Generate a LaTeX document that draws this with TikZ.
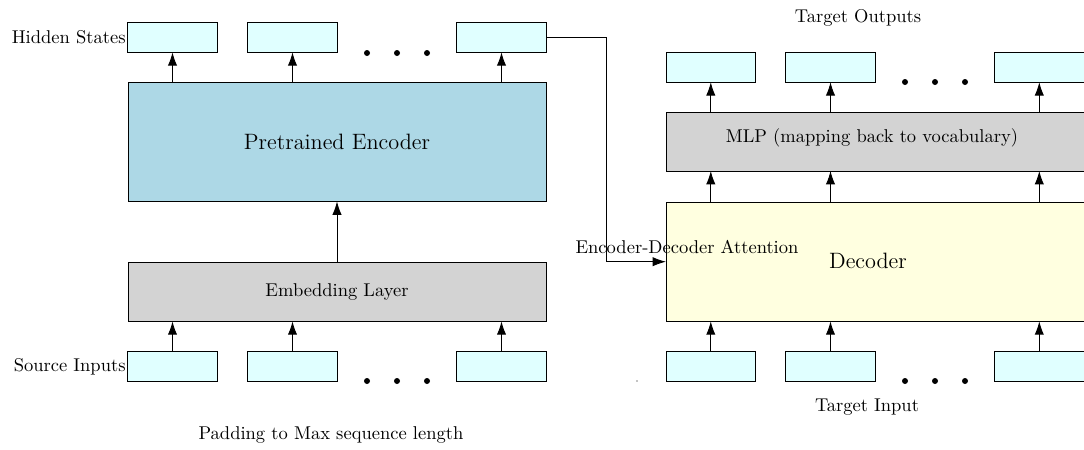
\documentclass[tikz,border=0pt]{standalone}
\usetikzlibrary{arrows.meta}
\definecolor{tokcyan}{RGB}{224,255,255}
\definecolor{encblue}{RGB}{173,216,230}
\definecolor{laygray}{RGB}{211,211,211}
\definecolor{decyellow}{RGB}{255,255,224}
\begin{document}
\begin{tikzpicture}[x=0.54pt,y=-0.54pt,
  tok/.style={draw, fill=tokcyan, line width=0.5pt, inner sep=0pt, outer sep=0pt, minimum width=48.3pt, minimum height=16.2pt},
  bigbox/.style={draw, line width=0.5pt, inner sep=0pt, outer sep=0pt, minimum width=225.7pt},
  arr/.style={-{Latex[length=7.2pt,width=5pt]}, line width=0.5pt},
  lbl/.style={inner sep=1pt, font=\normalsize},
  dotc/.style={fill=black}]
\useasboundingbox (0,0) rectangle (1084,450);
% left column
\node[tok] (h1) at (172.5,37.3) {};
\node[tok] (h2) at (292.5,37.3) {};
\node[tok] (h3) at (501.5,37.3) {};
\node[lbl, anchor=east] (hl) at (h1.west) {Hidden States};
\fill[dotc] (367,53) circle (3);
\fill[dotc] (397,53) circle (3);
\fill[dotc] (427,53) circle (3);
\node[bigbox, fill=encblue, minimum height=64.5pt] (enc) at (337,141.7) {\large Pretrained Encoder};
\node[bigbox, fill=laygray, minimum height=32pt] (emb) at (337,291.7) {Embedding Layer};
\node[tok] (s1) at (172.5,366.3) {};
\node[tok] (s2) at (292.5,366.3) {};
\node[tok] (s3) at (501.5,366.3) {};
\node[lbl, anchor=east] (sl) at (s1.west) {Source Inputs};
\fill[dotc] (367,381) circle (3);
\fill[dotc] (397,381) circle (3);
\fill[dotc] (427,381) circle (3);
\node[lbl] (pad) at (331,435) {Padding to Max sequence length};
\draw[arr] (enc.north -| h1) -- (h1.south);
\draw[arr] (enc.north -| h2) -- (h2.south);
\draw[arr] (enc.north -| h3) -- (h3.south);
\draw[arr] (emb.north) -- (enc.south);
\draw[arr] (s1.north) -- (emb.south -| s1);
\draw[arr] (s2.north) -- (emb.south -| s2);
\draw[arr] (s3.north) -- (emb.south -| s3);
% right column
\node[lbl] (tol) at (858,18) {Target Outputs};
\node[tok] (o1) at (710.8,67.2) {};
\node[tok] (o2) at (830.5,67.2) {};
\node[tok] (o3) at (1039.3,67.2) {};
\fill[dotc] (905,82) circle (3);
\fill[dotc] (935,82) circle (3);
\fill[dotc] (965,82) circle (3);
\node[bigbox, fill=laygray, minimum height=31.5pt] (mlp) at (875,141.8) {};
\node[lbl] (mlpl) at (872,137.5) {MLP (mapping back to vocabulary)};
\node[bigbox, fill=decyellow, minimum height=64.4pt] (dec) at (875,261.7) {};
\node[lbl] (decl) at (868,261) {\large Decoder};
\node[tok] (t1) at (710.8,366.3) {};
\node[tok] (t2) at (830.5,366.3) {};
\node[tok] (t3) at (1039.3,366.3) {};
\fill[dotc] (905,381) circle (3);
\fill[dotc] (935,381) circle (3);
\fill[dotc] (965,381) circle (3);
\fill (637,381) circle (0.7);
\node[lbl] (til) at (867,407) {Target Input};
\draw[arr] (mlp.north -| o1) -- (o1.south);
\draw[arr] (mlp.north -| o2) -- (o2.south);
\draw[arr] (mlp.north -| o3) -- (o3.south);
\draw[arr] (dec.north -| o1) -- (mlp.south -| o1);
\draw[arr] (dec.north -| o2) -- (mlp.south -| o2);
\draw[arr] (dec.north -| o3) -- (mlp.south -| o3);
\draw[arr] (t1.north) -- (dec.south -| t1);
\draw[arr] (t2.north) -- (dec.south -| t2);
\draw[arr] (t3.north) -- (dec.south -| t3);
% encoder-decoder attention
\coordinate (bend) at (606,37.3);
\draw[arr] (h3.east) -- (bend) |- (dec.west);
\node[lbl] (att) at (687,247) {Encoder-Decoder Attention};
\end{tikzpicture}
\end{document}
